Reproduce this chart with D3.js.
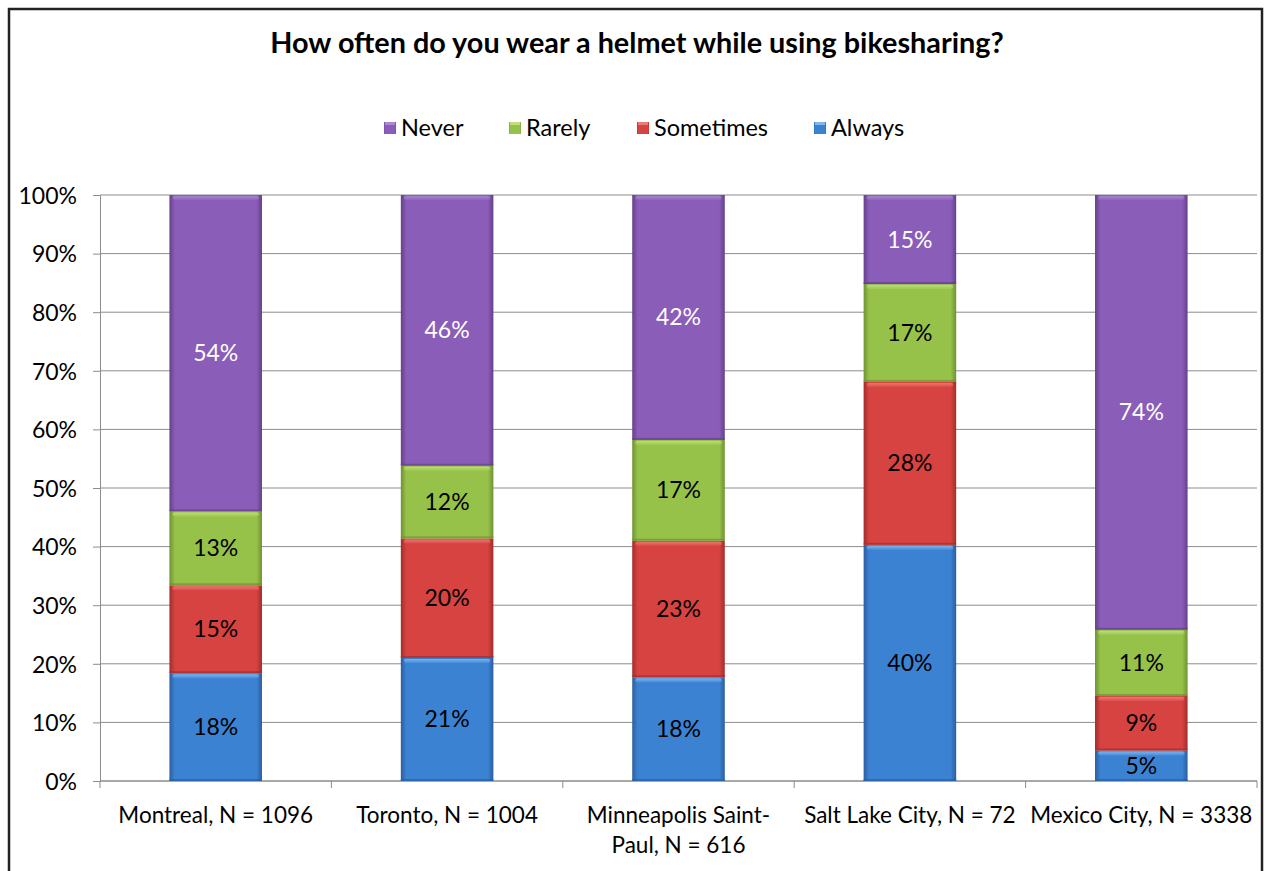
<!DOCTYPE html>
<html>
<head>
<meta charset="utf-8">
<script src="https://cdn.jsdelivr.net/npm/d3@7"></script>
<style>
  body { margin: 0; background: #fff; }
  svg { display: block; font-family: Lato, "Open Sans", sans-serif; }
</style>
</head>
<body>
<div id="chart"></div>
<script>
// chart data
const cities = ["Montreal, N = 1096", "Toronto, N = 1004", "Minneapolis Saint-Paul, N = 616", "Salt Lake City, N = 72", "Mexico City, N = 3338"];
const cityLines = [["Montreal, N = 1096"], ["Toronto, N = 1004"], ["Minneapolis Saint-", "Paul, N = 616"], ["Salt Lake City, N = 72"], ["Mexico City, N = 3338"]];
const seriesNames = ["Always", "Sometimes", "Rarely", "Never"];
const always    = [18.4, 21.0, 17.7, 40.3, 5.2];
const sometimes = [15.0, 20.4, 23.3, 27.8, 9.3];
const rarely    = [12.6, 12.4, 17.2, 16.7, 11.3];
const never     = [54.0, 46.2, 41.8, 15.2, 74.2];
const yTicks = [0, 10, 20, 30, 40, 50, 60, 70, 80, 90, 100];

const W = 1265, H = 871;
const margin = {top: 195, left: 100};
const plotW = 1157, plotH = 586;
const FS = "22.5px";

const svg = d3.select("#chart").append("svg")
  .attr("width", W)
  .attr("height", H);

// colours: base, light, dark
const colors = {
  Never:     ["#8a5db8", "#a987d4", "#64408c"],
  Rarely:    ["#97c24a", "#bde07a", "#6f9232"],
  Sometimes: ["#d64340", "#ee7a76", "#a32d2a"],
  Always:    ["#3c82d3", "#7fb8f0", "#2b5e9e"]
};

const defs = svg.append("defs");
Object.entries(colors).forEach(([k, c]) => {
  const g = defs.append("linearGradient").attr("id", "grad-" + k)
    .attr("x1", 0).attr("x2", 1).attr("y1", 0).attr("y2", 0);
  g.append("stop").attr("offset", "0%").attr("stop-color", c[2]);
  g.append("stop").attr("offset", "6%").attr("stop-color", c[0]);
  g.append("stop").attr("offset", "50%").attr("stop-color", c[0]);
  g.append("stop").attr("offset", "94%").attr("stop-color", c[0]);
  g.append("stop").attr("offset", "100%").attr("stop-color", c[2]);
  const v = defs.append("linearGradient").attr("id", "vgrad-" + k)
    .attr("x1", 0).attr("x2", 0).attr("y1", 0).attr("y2", 1);
  v.append("stop").attr("offset", "0%").attr("stop-color", c[1]).attr("stop-opacity", 0.9);
  v.append("stop").attr("offset", "100%").attr("stop-color", c[1]).attr("stop-opacity", 0.2);
});

// outer border
svg.append("rect")
  .attr("x", 9).attr("y", 9)
  .attr("width", 1253).attr("height", H)
  .attr("fill", "none")
  .attr("stroke", "#222")
  .attr("stroke-width", 2.5);

// title
svg.append("text")
  .attr("x", 637).attr("y", 53)
  .attr("text-anchor", "middle")
  .style("font-size", "28.8px")
  .style("font-weight", "bold")
  .text("How often do you wear a helmet while using bikesharing?");

const g = svg.append("g").attr("transform", `translate(${margin.left},${margin.top})`);

const x = d3.scaleBand()
  .domain(cities)
  .range([0, plotW])
  .paddingInner(0.6)
  .paddingOuter(0.3);

const y = d3.scaleLinear().domain([0, 100]).range([plotH, 0]);

// grid lines
g.selectAll("line.grid")
  .data(yTicks)
  .enter().append("line")
  .attr("class", "grid")
  .attr("x1", 0).attr("x2", plotW)
  .attr("y1", d => y(d)).attr("y2", d => y(d))
  .attr("stroke", "#8c8c8c").attr("stroke-width", 1);

// y axis
const yAxis = g.append("g")
  .call(d3.axisLeft(y).tickValues(yTicks).tickFormat(d => d + "%").tickSize(7).tickPadding(16));
yAxis.attr("font-family", null).attr("font-size", null);
yAxis.select(".domain").attr("stroke", "#8c8c8c");
yAxis.selectAll(".tick line").attr("stroke", "#8c8c8c");
yAxis.selectAll("text").style("font-size", "23px").attr("dy", "0.36em").attr("fill", "#000");

// x axis line and tick marks between categories
const step = x.step();
g.append("line")
  .attr("x1", 0).attr("x2", plotW)
  .attr("y1", plotH).attr("y2", plotH)
  .attr("stroke", "#8c8c8c");
g.selectAll("line.xtick")
  .data(d3.range(cities.length + 1))
  .enter().append("line")
  .attr("class", "xtick")
  .attr("x1", i => i * step).attr("x2", i => i * step)
  .attr("y1", plotH).attr("y2", plotH + 7)
  .attr("stroke", "#8c8c8c");

// category labels
const catLabels = g.selectAll("text.cat")
  .data(cities)
  .enter().append("text")
  .attr("class", "cat")
  .attr("text-anchor", "middle")
  .attr("x", d => x(d) + x.bandwidth() / 2)
  .attr("y", plotH + 42)
  .style("font-size", FS);
catLabels.each(function(d, i) {
  cityLines[i].forEach((line, j) => {
    d3.select(this).append("tspan")
      .attr("x", x(d) + x.bandwidth() / 2)
      .attr("dy", j === 0 ? 0 : 30)
      .text(line);
  });
});

// stacked data
const rows = cities.map((c, i) => ({city: c, Always: always[i], Sometimes: sometimes[i], Rarely: rarely[i], Never: never[i]}));
const stack = d3.stack().keys(seriesNames)(rows);

stack.forEach(layer => {
  const key = layer.key;
  const lg = g.append("g");
  const segs = lg.selectAll("g.seg")
    .data(layer)
    .enter().append("g");
  segs.append("rect")
    .attr("x", d => x(d.data.city))
    .attr("y", d => y(d[1]))
    .attr("width", x.bandwidth())
    .attr("height", d => y(d[0]) - y(d[1]))
    .attr("fill", `url(#grad-${key})`);
  // top highlight
  segs.append("rect")
    .attr("x", d => x(d.data.city) + 3)
    .attr("y", d => y(d[1]) + 1)
    .attr("width", x.bandwidth() - 6)
    .attr("height", 4)
    .attr("rx", 2)
    .attr("fill", `url(#vgrad-${key})`);
  // darker bottom edge
  segs.append("rect")
    .attr("x", d => x(d.data.city))
    .attr("y", d => y(d[0]) - 2)
    .attr("width", x.bandwidth())
    .attr("height", 2)
    .attr("fill", colors[key][2])
    .attr("opacity", 0.7);
  segs.append("text")
    .attr("x", d => x(d.data.city) + x.bandwidth() / 2)
    .attr("y", d => (y(d[0]) + y(d[1])) / 2 + 8)
    .attr("text-anchor", "middle")
    .style("font-size", "23px")
    .attr("fill", key === "Never" ? "#fff" : "#000")
    .text(d => Math.round(d[1] - d[0]) + "%");
});

// legend
const legendItems = [
  {name: "Never", x: 384},
  {name: "Rarely", x: 509},
  {name: "Sometimes", x: 637},
  {name: "Always", x: 814}
];
const lgd = svg.append("g");
legendItems.forEach(it => {
  lgd.append("rect")
    .attr("x", it.x).attr("y", 122)
    .attr("width", 12).attr("height", 12)
    .attr("fill", `url(#grad-${it.name})`);
  lgd.append("rect")
    .attr("x", it.x + 1).attr("y", 122)
    .attr("width", 10).attr("height", 3)
    .attr("fill", colors[it.name][1]);
  lgd.append("text")
    .attr("x", it.x + 17).attr("y", 136)
    .style("font-size", "23.5px")
    .text(it.name);
});
</script>
</body>
</html>
